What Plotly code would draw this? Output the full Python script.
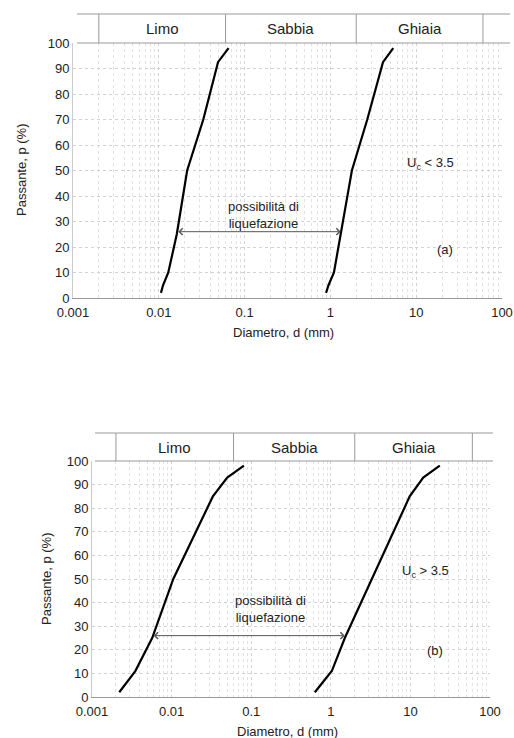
import math
import plotly.graph_objects as go

# ---------------- data ----------------
# (a) Uc < 3.5
a_fine_d = [0.0106, 0.0112, 0.0129, 0.0162, 0.0214, 0.033, 0.049, 0.065]
a_fine_p = [2, 5, 10, 25, 50, 70, 92.5, 98]
a_coarse_d = [0.89, 0.95, 1.1, 1.32, 1.78, 2.69, 4.1, 5.4]
a_coarse_p = [2, 5, 10, 25, 50, 70, 92.5, 98]
# (b) Uc > 3.5
b_fine_d = [0.0022, 0.0035, 0.0057, 0.0105, 0.033, 0.050, 0.081]
b_fine_p = [2, 11, 25, 50, 85, 93, 98]
b_coarse_d = [0.63, 1.03, 1.5, 3.3, 9.8, 14.5, 23.4]
b_coarse_p = [2, 11, 25, 50, 85, 93, 98]

# liquefaction arrow: level and end diameters
a_arrow_p = 26
a_arrow_d = [0.0162, 1.32]
b_arrow_p = 26
b_arrow_d = [0.0057, 1.5]

# soil classes (boundaries in mm)
class_bounds = [0.002, 0.06, 2, 60]
class_names = ["Limo", "Sabbia", "Ghiaia"]

x_tickvals = [0.001, 0.01, 0.1, 1, 10, 100]
x_ticktext = ["0.001", "0.01", "0.1", "1", "10", "100"]
x_minorvals = [m * 10 ** e for e in range(-3, 2) for m in range(2, 10)]
y_tickvals = list(range(0, 101, 10))

FONT = "Liberation Sans, Arial, sans-serif"
W, H = 514, 738

fig = go.Figure()

line_style = dict(color="black", width=2.2)
fig.add_trace(go.Scatter(x=a_fine_d, y=a_fine_p, mode="lines", line=line_style,
                         xaxis="x", yaxis="y", showlegend=False))
fig.add_trace(go.Scatter(x=a_coarse_d, y=a_coarse_p, mode="lines", line=line_style,
                         xaxis="x", yaxis="y", showlegend=False))
fig.add_trace(go.Scatter(x=b_fine_d, y=b_fine_p, mode="lines", line=line_style,
                         xaxis="x2", yaxis="y2", showlegend=False))
fig.add_trace(go.Scatter(x=b_coarse_d, y=b_coarse_p, mode="lines", line=line_style,
                         xaxis="x2", yaxis="y2", showlegend=False))

def px(x):
    return x / W

def py(y):
    return 1 - y / H

panels = [
    dict(xa="x", ya="y", l=73, r=502, t=43, b=298, ht=14, hl=77, hr=510),
    dict(xa="x2", ya="y2", l=92, r=490, t=461, b=697, ht=433, hl=95, hr=493),
]

axis_common = dict(
    type="log", range=[-3, 2],
    tickmode="array", tickvals=x_tickvals, ticktext=x_ticktext,
    showgrid=True, gridcolor="#d2d2d2", griddash="dot", gridwidth=1,
    minor=dict(tickmode="array", tickvals=x_minorvals, showgrid=True,
               gridcolor="#e2e2e2", griddash="dot", gridwidth=1, ticks=""),
    showline=True, linecolor="#999", linewidth=1,
    ticks="", tickfont=dict(family=FONT, size=13, color="#222"),
    ticklabelstandoff=2,
    zeroline=False, automargin=False,
)
yaxis_common = dict(
    range=[0, 100], tickmode="array", tickvals=y_tickvals,
    showgrid=True, gridcolor="#d2d2d2", griddash="dot", gridwidth=1,
    showline=True, linecolor="#ccc", linewidth=1,
    ticks="", tickfont=dict(family=FONT, size=13, color="#222"),
    zeroline=False, automargin=False,
)

layout = dict(
    width=W, height=H,
    margin=dict(l=0, r=0, t=0, b=0, autoexpand=False),
    paper_bgcolor="white", plot_bgcolor="white",
    showlegend=False,
)

for i, p in enumerate(panels):
    suf = "" if i == 0 else "2"
    layout["xaxis" + suf] = dict(axis_common, domain=[px(p["l"]), px(p["r"])],
                                 anchor="y" + suf)
    layout["yaxis" + suf] = dict(yaxis_common, domain=[py(p["b"]), py(p["t"])],
                                 anchor="x" + suf)

fig.update_layout(**layout)

shapes = []
annotations = []
for i, p in enumerate(panels):
    xa, ya = p["xa"], p["ya"]
    for yy in (p["ht"], p["t"]):
        shapes.append(dict(type="line", xref="paper", yref="paper",
                           x0=px(p["hl"]), x1=px(p["hr"]), y0=py(yy), y1=py(yy),
                           line=dict(color="#999", width=1)))
    for b in class_bounds:
        shapes.append(dict(type="line", xref=xa, yref="paper",
                           x0=b, x1=b, y0=py(p["ht"]), y1=py(p["t"]),
                           line=dict(color="#999", width=1)))
    for k, name in enumerate(class_names):
        xc = (math.log10(class_bounds[k]) + math.log10(class_bounds[k + 1])) / 2
        annotations.append(dict(text=name, xref=xa, yref="paper", x=xc,
                                y=py((p["ht"] + p["t"]) / 2), showarrow=False,
                                font=dict(family=FONT, size=15, color="#222"),
                                xanchor="center", yanchor="middle"))

for xa, ya, ap, ad in (("x", "y", a_arrow_p, a_arrow_d), ("x2", "y2", b_arrow_p, b_arrow_d)):
    annotations.append(dict(text="", xref=xa, yref=ya, axref=xa, ayref=ya,
                            x=math.log10(ad[1]), y=ap, ax=math.log10(ad[0]), ay=ap,
                            showarrow=True, arrowside="end+start", arrowhead=4,
                            startarrowhead=4, arrowsize=1.3, startarrowsize=1.3,
                            arrowwidth=1, arrowcolor="#555", standoff=0, startstandoff=0))

txt = dict(family=FONT, size=13, color="#222")

def label(text, x, y, **kw):
    d = dict(text=text, xref="paper", yref="paper", x=px(x), y=py(y),
             showarrow=False, font=txt, xanchor="center", yanchor="middle",
             align="center")
    d.update(kw)
    return d

annotations += [
    label("possibilità di<br>liquefazione", 263, 215),
    label("U<sub>c</sub> &lt; 3.5", 430, 163),
    label("(a)", 445, 250),
    label("Diametro, d (mm)", 283, 333),
    label("Passante, p (%)", 21, 170, textangle=-90),
    label("possibilità di<br>liquefazione", 270, 609),
    label("U<sub>c</sub> &gt; 3.5", 425, 571),
    label("(b)", 435, 650),
    label("Diametro, d (mm)", 287, 731),
    label("Passante, p (%)", 46, 579, textangle=-90),
]

fig.update_layout(shapes=shapes, annotations=annotations)
fig.write_html("out.html", config={"displayModeBar": False},
               post_script="document.body.style.margin='0';document.body.style.overflow='hidden';")
